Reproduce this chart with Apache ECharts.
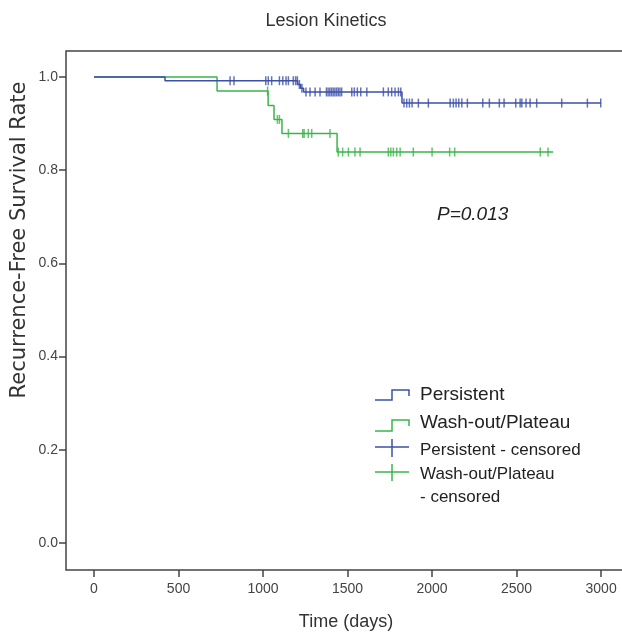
<!DOCTYPE html>
<html>
<head>
<meta charset="utf-8">
<script src="https://cdn.jsdelivr.net/npm/echarts@6/dist/echarts.min.js"></script>
<style>
    html, body {margin: 0; padding: 0; background: #fff;}
    #main {width: 622px; height: 638px;}
</style>
</head>
<body>
<div id="main"></div>
<script>
// Kaplan-Meier steps [day, survival]
var persistentSteps = [[0, 1], [420, 0.992], [1205, 0.984], [1222, 0.976], [1240, 0.968], [1822, 0.944], [3000, 0.944]];
var washoutSteps = [[0, 1], [728, 0.970], [1030, 0.939], [1065, 0.909], [1112, 0.879], [1438, 0.839], [2716, 0.839]];

// censored days
var persistentCensored = [805, 828, 1016, 1031, 1051, 1097, 1117, 1136, 1150, 1179, 1193, 1203,
    1215, 1230, 1254, 1278, 1308, 1337, 1375, 1385, 1395, 1405, 1415, 1425, 1435, 1445, 1455, 1465,
    1525, 1540, 1558, 1578, 1614, 1712, 1741, 1761, 1781, 1801, 1815,
    1834, 1850, 1866, 1882, 1919, 1978, 2107, 2126, 2142, 2158, 2176, 2209, 2300, 2339, 2398, 2426,
    2495, 2521, 2531, 2556, 2580, 2619, 2767, 2919, 2998];
var washoutCensored = [1027, 1085, 1097, 1150, 1235, 1243, 1268, 1288, 1396, 1445, 1471, 1505, 1544, 1574,
    1741, 1756, 1771, 1791, 1811, 1889, 2000, 2104, 2134, 2640, 2686];

var xTicks = [0, 500, 1000, 1500, 2000, 2500, 3000];
var yTicks = [0, 0.2, 0.4, 0.6, 0.8, 1.0];

var blue = '#3d50a8';
var green = '#3cb44b';
var font = 'Liberation Sans, Arial, sans-serif';

// survival value at day t
function survivalAt(steps, t) {
    var s = steps[0][1];
    for (var i = 0; i < steps.length; i++) {
        if (steps[i][0] <= t) s = steps[i][1];
    }
    return s;
}

function censorPoints(steps, days) {
    return days.map(function (d) {
        return [d, survivalAt(steps, d)];
    });
}

var myChart = echarts.init(document.getElementById('main'));

var option = {
    animation: false,
    title: {
        text: 'Lesion Kinetics',
        left: 321,
        top: 7,
        textAlign: 'center',
        textStyle: {fontFamily: font, fontSize: 18, fontWeight: 'normal', color: '#333'}
    },
    grid: {
        left: 66, top: 51, width: 600, height: 519,
        outerBoundsMode: 'none',
        containLabel: false,
        show: true, borderColor: '#444', borderWidth: 1.5, backgroundColor: 'transparent'
    },
    xAxis: {
        type: 'value',
        min: -165.7,
        max: 3384,
        name: 'Time (days)',
        nameLocation: 'middle',
        nameGap: 43,
        nameTextStyle: {fontFamily: font, fontSize: 18, color: '#333', padding: [0, 0, 0, -40]},
        axisLine: {show: false, onZero: false},
        splitLine: {show: false},
        axisTick: {show: true, customValues: xTicks, length: 7, lineStyle: {color: '#444', width: 1.5}},
        axisLabel: {
            customValues: xTicks, fontFamily: font, fontSize: 14, color: '#444', margin: 12,
            formatter: function (v) { return String(v); }
        }
    },
    yAxis: {
        type: 'value',
        min: -0.0579,
        max: 1.0558,
        axisLine: {show: false, onZero: false},
        splitLine: {show: false},
        axisTick: {show: true, customValues: yTicks, length: 7, lineStyle: {color: '#444', width: 1.5}},
        axisLabel: {
            customValues: yTicks, fontFamily: font, fontSize: 14, color: '#444', margin: 8,
            formatter: function (v) { return v.toFixed(1); }
        }
    },
    series: [
        {
            name: 'Persistent',
            type: 'line',
            step: 'end',
            symbol: 'none',
            lineStyle: {color: blue, width: 1.5},
            data: persistentSteps,
            z: 3
        },
        {
            name: 'Wash-out/Plateau',
            type: 'line',
            step: 'end',
            symbol: 'none',
            lineStyle: {color: green, width: 1.5},
            data: washoutSteps,
            z: 2
        },
        {
            name: 'Persistent - censored',
            type: 'scatter',
            symbol: 'rect',
            symbolSize: [1.5, 9],
            itemStyle: {color: blue},
            data: censorPoints(persistentSteps, persistentCensored),
            z: 4
        },
        {
            name: 'Wash-out/Plateau - censored',
            type: 'scatter',
            symbol: 'rect',
            symbolSize: [1.5, 9],
            itemStyle: {color: green},
            data: censorPoints(washoutSteps, washoutCensored),
            z: 4
        }
    ],
    graphic: [
        // y axis title
        {
            type: 'text', x: 20, y: 240, rotation: Math.PI / 2,
            style: {
                text: 'Recurrence-Free Survival Rate', fontFamily: 'DejaVu Sans', fontSize: 21,
                fill: '#333', align: 'center', verticalAlign: 'middle'
            }
        },
        {
            type: 'text', x: 437, y: 215,
            style: {
                text: 'P=0.013', fontFamily: font, fontStyle: 'italic', fontSize: 19,
                fill: '#222', verticalAlign: 'middle'
            }
        },
        // legend
        {
            type: 'polyline',
            shape: {points: [[375, 400], [392, 400], [392, 390], [409, 390], [409, 396]]},
            style: {stroke: blue, lineWidth: 1.5, fill: null}
        },
        {
            type: 'text', x: 420, y: 395,
            style: {text: 'Persistent', fontFamily: font, fontSize: 19, fill: '#222', verticalAlign: 'middle'}
        },
        {
            type: 'polyline',
            shape: {points: [[375, 431], [392, 431], [392, 420], [409, 420], [409, 426]]},
            style: {stroke: green, lineWidth: 1.5, fill: null}
        },
        {
            type: 'text', x: 420, y: 423,
            style: {text: 'Wash-out/Plateau', fontFamily: font, fontSize: 19, fill: '#222', verticalAlign: 'middle'}
        },
        {
            type: 'polyline', shape: {points: [[375, 447], [409, 447]]},
            style: {stroke: blue, lineWidth: 1.5, fill: null}
        },
        {
            type: 'polyline', shape: {points: [[392, 439], [392, 457]]},
            style: {stroke: blue, lineWidth: 1.5, fill: null}
        },
        {
            type: 'text', x: 420, y: 450,
            style: {text: 'Persistent - censored', fontFamily: font, fontSize: 17, fill: '#222', verticalAlign: 'middle'}
        },
        {
            type: 'polyline', shape: {points: [[375, 472], [409, 472]]},
            style: {stroke: green, lineWidth: 1.5, fill: null}
        },
        {
            type: 'polyline', shape: {points: [[392, 464], [392, 481]]},
            style: {stroke: green, lineWidth: 1.5, fill: null}
        },
        {
            type: 'text', x: 420, y: 474,
            style: {text: 'Wash-out/Plateau', fontFamily: font, fontSize: 17, fill: '#222', verticalAlign: 'middle'}
        },
        {
            type: 'text', x: 420, y: 497,
            style: {text: '- censored', fontFamily: font, fontSize: 17, fill: '#222', verticalAlign: 'middle'}
        }
    ]
};

myChart.setOption(option);
</script>
</body>
</html>
